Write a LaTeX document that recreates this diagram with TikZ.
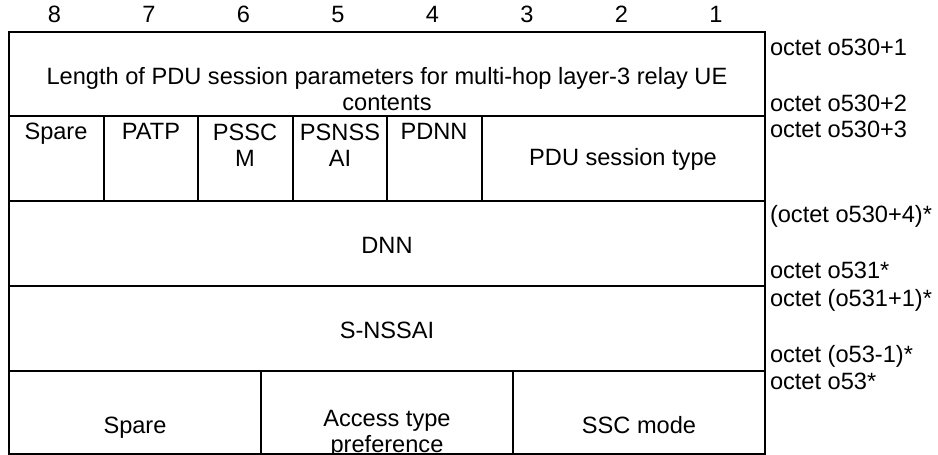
\documentclass[tikz,border=0pt]{standalone}
\usepackage{fontspec}
\setmainfont{Liberation Sans}
\begin{document}
\begin{tikzpicture}[x=0.5pt, y=-0.5pt, line width=1pt,
	cell/.style={align=center, anchor=base, inner sep=0pt, font=\fontsize{11.8}{13}\selectfont},
	octet/.style={anchor=base west, inner sep=0pt, font=\fontsize{11.8}{13}\selectfont}]
	\useasboundingbox (0,0) rectangle (938,455);
	% bit numbers
	\foreach \b [evaluate=\b as \cx using 9+94.5*(8-\b)+45.5] in {8,7,...,1}
		\node[cell] (bit\b) at (\cx,23) {\b};
	% frame and rows
	\draw (9,32) rectangle (765,454);
	\foreach \y in {116,201,286,371}
		\draw (9,\y) -- (765,\y);
	\foreach \i in {1,...,5}
		\draw ({9+94.5*\i},116) -- ++(0,85);
	\draw (261,371) -- (261,454);
	\draw (513,371) -- (513,454);
	% cell contents (base = last line)
	\node[cell] (len) at (387,110) {Length of PDU session parameters for multi-hop layer-3 relay UE\\contents};
	\node[cell] (spare1) at (56,139) {Spare};
	\node[cell] (patp) at (151,139) {PATP};
	\node[cell] (pssc) at (245,166) {PSSC\\M};
	\node[cell] (psnssai) at (340,166) {PSNSS\\AI};
	\node[cell] (pdnn) at (434,139) {PDNN};
	\node[cell] (pdutype) at (623,165) {PDU session type};
	\node[cell] (dnn) at (387,253) {DNN};
	\node[cell] (snssai) at (387,338) {S-NSSAI};
	\node[cell] (spare2) at (135,433) {Spare};
	\node[cell] (atpref) at (387,452) {Access type\\preference};
	\node[cell] (sscmode) at (639,433) {SSC mode};
	% octet numbers
	\node[octet] (o1) at (769,55) {octet o530+1};
	\node[octet] (o2) at (769,111) {octet o530+2};
	\node[octet] (o3) at (769,137) {octet o530+3};
	\node[octet] (o4) at (769,222) {(octet o530+4)*};
	\node[octet] (o5) at (769,278) {octet o531*};
	\node[octet] (o6) at (769,306) {octet (o531+1)*};
	\node[octet] (o7) at (769,362) {octet (o53-1)*};
	\node[octet] (o8) at (769,389) {octet o53*};
\end{tikzpicture}
\end{document}
